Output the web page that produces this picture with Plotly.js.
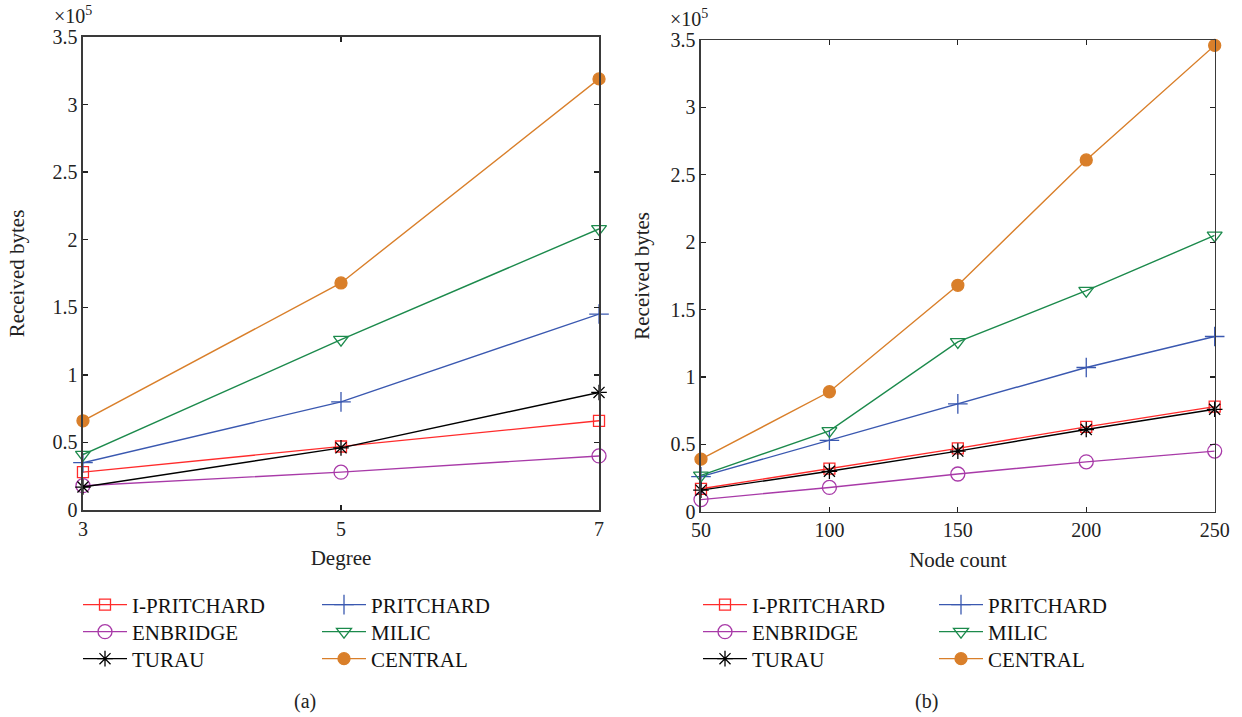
<!DOCTYPE html>
<html>
<head>
<meta charset="utf-8">
<script src="https://cdn.plot.ly/plotly-3.0.1.min.js"></script>
<style>
  html, body { margin: 0; padding: 0; background: #fff; }
  #chart { width: 1242px; height: 717px; }
</style>
</head>
<body>
<div id="chart"></div>
<script>
// Received bytes (in units of 1e5) against node degree — panel (a)
const degree = [3, 5, 7];
const degIPritchard = [0.28, 0.47, 0.66];
const degEnbridge   = [0.18, 0.28, 0.40];
const degTurau      = [0.17, 0.46, 0.87];
const degPritchard  = [0.35, 0.80, 1.45];
const degMilic      = [0.41, 1.26, 2.08];
const degCentral    = [0.66, 1.68, 3.19];

// Received bytes (in units of 1e5) against node count — panel (b)
const nodeCount = [50, 100, 150, 200, 250];
const nodeIPritchard = [0.17, 0.32, 0.47, 0.63, 0.78];
const nodeEnbridge   = [0.09, 0.18, 0.28, 0.37, 0.45];
const nodeTurau      = [0.16, 0.30, 0.45, 0.61, 0.76];
const nodePritchard  = [0.26, 0.53, 0.80, 1.07, 1.30];
const nodeMilic      = [0.27, 0.60, 1.26, 1.64, 2.05];
const nodeCentral    = [0.39, 0.89, 1.68, 2.61, 3.46];

const yTickVals = [0, 0.5, 1, 1.5, 2, 2.5, 3, 3.5];
const yTickText = ['0', '0.5', '1', '1.5', '2', '2.5', '3', '3.5'];

const FONT = 'Liberation Serif, Times New Roman, serif';

const styles = {
  'I-PRITCHARD': { color: '#ff2b2b', symbol: 'square-open',        size: 11 },
  'ENBRIDGE':    { color: '#a83aa8', symbol: 'circle-open',        size: 14 },
  'TURAU':       { color: '#000000', symbol: 'asterisk-open',      size: 13 },
  'PRITCHARD':   { color: '#3a58b0', symbol: 'cross-thin-open',    size: 14 },
  'MILIC':       { color: '#1c8a4c', symbol: 'triangle-down-open', size: 13 },
  'CENTRAL':     { color: '#d97f2a', symbol: 'circle',             size: 12 }
};

function series(name, x, y, xa, ya, legend) {
  const s = styles[name];
  return {
    type: 'scatter', mode: 'lines+markers', name: name,
    x: x, y: y, xaxis: xa, yaxis: ya, legend: legend,
    line: { color: s.color, width: 1.4 },
    marker: { symbol: s.symbol, size: s.size, color: s.color,
              line: { color: s.color, width: 1.3 } },
    cliponaxis: false
  };
}

// one horizontal legend per row, two entries each
const traces = [
  series('I-PRITCHARD', degree, degIPritchard, 'x', 'y', 'legend'),
  series('PRITCHARD',   degree, degPritchard,  'x', 'y', 'legend'),
  series('ENBRIDGE',    degree, degEnbridge,   'x', 'y', 'legend2'),
  series('MILIC',       degree, degMilic,      'x', 'y', 'legend2'),
  series('TURAU',       degree, degTurau,      'x', 'y', 'legend3'),
  series('CENTRAL',     degree, degCentral,    'x', 'y', 'legend3'),

  series('I-PRITCHARD', nodeCount, nodeIPritchard, 'x2', 'y2', 'legend4'),
  series('PRITCHARD',   nodeCount, nodePritchard,  'x2', 'y2', 'legend4'),
  series('ENBRIDGE',    nodeCount, nodeEnbridge,   'x2', 'y2', 'legend5'),
  series('MILIC',       nodeCount, nodeMilic,      'x2', 'y2', 'legend5'),
  series('TURAU',       nodeCount, nodeTurau,      'x2', 'y2', 'legend6'),
  series('CENTRAL',     nodeCount, nodeCentral,    'x2', 'y2', 'legend6')
];

const axisCommon = {
  showline: true, linecolor: '#3a3a3a', linewidth: 1.5, mirror: 'ticks',
  ticks: 'inside', ticklen: 5, tickwidth: 1.3, tickcolor: '#222',
  showgrid: false, zeroline: false,
  tickfont: { family: FONT, size: 20, color: '#222' }
};

const titleFont = { family: FONT, size: 21, color: '#222' };

function legendRow(xPx, yPx, entryPx) {
  return {
    x: xPx / 1242, y: 1 - yPx / 717, xanchor: 'left', yanchor: 'middle',
    orientation: 'h', bgcolor: 'rgba(0,0,0,0)', borderwidth: 0,
    entrywidth: entryPx, entrywidthmode: 'pixels',
    font: { family: FONT, size: 21, color: '#111' },
    itemwidth: 44
  };
}

const layout = {
  width: 1242, height: 717,
  margin: { l: 0, r: 0, t: 0, b: 0, autoexpand: false },
  paper_bgcolor: '#fff', plot_bgcolor: '#fff',
  font: { family: FONT, size: 20, color: '#222' },
  showlegend: true,
  xaxis: Object.assign({}, axisCommon, {
    domain: [0.0668, 0.4823], range: [3, 7],
    tickvals: degree, ticktext: degree.map(String),
    anchor: 'y',
    title: { text: 'Degree', font: titleFont, standoff: 12 }
  }),
  yaxis: Object.assign({}, axisCommon, {
    domain: [0.2887, 0.9484], range: [0, 3.5],
    tickvals: yTickVals, ticktext: yTickText,
    anchor: 'x',
    title: { text: 'Received bytes', font: titleFont, standoff: 22 }
  }),
  xaxis2: Object.assign({}, axisCommon, {
    domain: [0.5644, 0.978], range: [50, 250],
    tickvals: nodeCount, ticktext: nodeCount.map(String),
    anchor: 'y2',
    title: { text: 'Node count', font: titleFont, standoff: 12 }
  }),
  yaxis2: Object.assign({}, axisCommon, {
    domain: [0.2863, 0.9442], range: [0, 3.5],
    tickvals: yTickVals, ticktext: yTickText,
    anchor: 'x2',
    title: { text: 'Received bytes', font: titleFont, standoff: 15 }
  }),
  legend:  legendRow(78, 605, 180),
  legend2: legendRow(78, 632, 180),
  legend3: legendRow(78, 659, 180),
  legend4: legendRow(698, 605, 177),
  legend5: legendRow(698, 632, 177),
  legend6: legendRow(698, 659, 177),
  annotations: [
    { xref: 'paper', yref: 'paper', x: 0.0584, y: 0.9484 + 8 / 717, xanchor: 'center', yanchor: 'bottom',
      text: '×10<sup>5</sup>', showarrow: false, font: { family: FONT, size: 20, color: '#222' } },
    { xref: 'paper', yref: 'paper', x: 0.5548, y: 0.9442 + 8 / 717, xanchor: 'center', yanchor: 'bottom',
      text: '×10<sup>5</sup>', showarrow: false, font: { family: FONT, size: 20, color: '#222' } },
    { xref: 'paper', yref: 'paper', x: 0.2455, y: 0.0210, xanchor: 'center', yanchor: 'middle',
      text: '(a)', showarrow: false, font: { family: FONT, size: 20, color: '#222' } },
    { xref: 'paper', yref: 'paper', x: 0.7460, y: 0.0210, xanchor: 'center', yanchor: 'middle',
      text: '(b)', showarrow: false, font: { family: FONT, size: 20, color: '#222' } }
  ]
};

Plotly.newPlot('chart', traces, layout, { staticPlot: true, displayModeBar: false });
</script>
</body>
</html>
